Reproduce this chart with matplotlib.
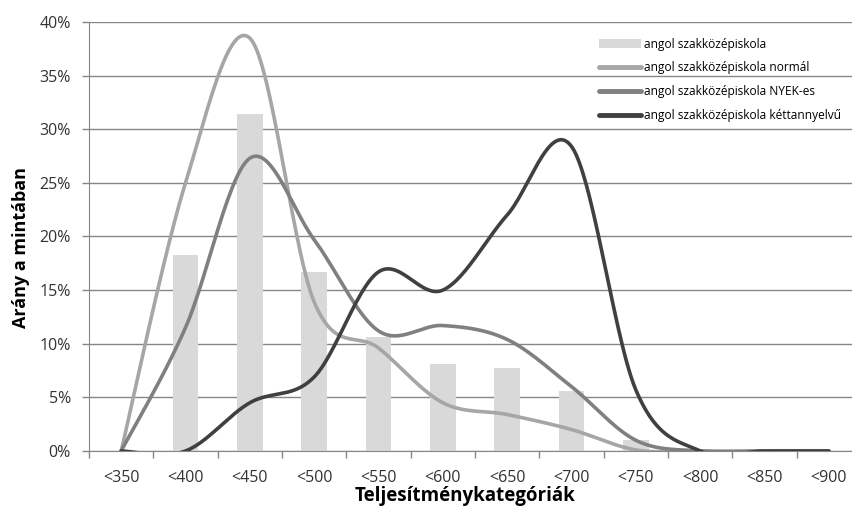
import matplotlib
matplotlib.use("Agg")
import matplotlib.pyplot as plt
import numpy as np

plt.rcParams['font.family'] = ['Open Sans', 'DejaVu Sans']

kategoriak = ['<350', '<400', '<450', '<500', '<550', '<600', '<650', '<700',
              '<750', '<800', '<850', '<900']
# arany a mintaban, szazalek
szakkozep = [0, 18.3, 31.4, 16.7, 10.6, 8.1, 7.7, 5.6, 1.0, 0, 0, 0]
normal = [0, 25.0, 38.5, 13.9, 9.6, 4.5, 3.4, 2.0, 0.1, 0, 0, 0]
nyek = [0, 11.5, 27.3, 19.7, 11.2, 11.7, 10.4, 6.0, 1.0, 0, 0, 0]
kettannyelvu = [0, 0, 4.5, 6.9, 16.7, 15.0, 22.0, 28.4, 5.7, 0, 0, 0]

nevek = ['angol szakközépiskola', 'angol szakközépiskola normál',
         'angol szakközépiskola NYEK-es', 'angol szakközépiskola kéttannyelvű']


def simit(y, n=30):
    # excel-szeru simitott vonal (catmull-rom)
    x = np.arange(len(y), dtype=float)
    p = np.array(list(zip(x, y)), dtype=float)
    p = np.vstack([p[0], p, p[-1]])
    xs, ys = [], []
    t = np.linspace(0, 1, n)
    for i in range(1, len(p) - 2):
        p0, p1, p2, p3 = p[i - 1], p[i], p[i + 1], p[i + 2]
        c1 = p1 + (p2 - p0) / 6.0
        c2 = p2 - (p3 - p1) / 6.0
        b = ((1 - t) ** 3)[:, None] * p1 + (3 * (1 - t) ** 2 * t)[:, None] * c1 \
            + (3 * (1 - t) * t ** 2)[:, None] * c2 + (t ** 3)[:, None] * p2
        xs.extend(b[:, 0])
        ys.extend(b[:, 1])
    return np.array(xs), np.array(ys)


fig = plt.figure(figsize=(8.53, 5.08), dpi=100)
ax = fig.add_axes([89 / 853, 57 / 508, 772 / 853, 429 / 508])

x = np.arange(len(kategoriak))
oszlop = ax.bar(x, szakkozep, width=0.4, color='#d9d9d9', label=nevek[0],
                zorder=2)

szinek = ['#a6a6a6', '#808080', '#404040']
vonalak = []
for sor, szin, nev in zip([normal, nyek, kettannyelvu], szinek, nevek[1:]):
    sx, sy = simit(sor)
    v, = ax.plot(sx, sy, color=szin, lw=2.6, label=nev, zorder=3,
                 solid_capstyle='round')
    vonalak.append(v)

ax.set_xlim(-0.5, 11.5)
ax.set_ylim(0, 40)
ax.set_yticks(range(0, 41, 5))
ax.set_yticklabels(['%d%%' % v for v in range(0, 41, 5)])
ax.set_xticks(x)
ax.set_xticklabels(kategoriak)
ax.set_xticks(np.arange(-0.5, 12, 1), minor=True)
ax.tick_params(axis='x', which='major', length=0, pad=14, labelsize=11.5,
               colors='#333333')
ax.tick_params(axis='x', which='minor', length=5, color='#868686', width=1)
ax.tick_params(axis='y', length=5, color='#868686', width=1, pad=8,
               labelsize=11.5, colors='#333333')

ax.grid(axis='y', color='#868686', lw=1, zorder=0)
ax.set_axisbelow(True)
for s in ['top', 'right']:
    ax.spines[s].set_visible(False)
for s in ['left', 'bottom']:
    ax.spines[s].set_color('#868686')

ax.set_ylabel('Arány a mintában', fontsize=13, fontweight='bold')
ax.yaxis.set_label_coords(-0.076, 0.475)
ax.set_xlabel('Teljesítménykategóriák', fontsize=13.5, fontweight='bold')
ax.xaxis.set_label_coords(0.487, -0.082)

leg = ax.legend([oszlop] + vonalak, nevek, loc='upper left',
                bbox_to_anchor=(0.655, 0.975), frameon=False,
                fontsize=8.6, handlelength=3.5, handletextpad=0.2,
                labelspacing=0.9, borderaxespad=0)
for h in leg.legend_handles[1:]:
    h.set_linewidth(3.5)

fig.savefig('out.png', dpi=100)
